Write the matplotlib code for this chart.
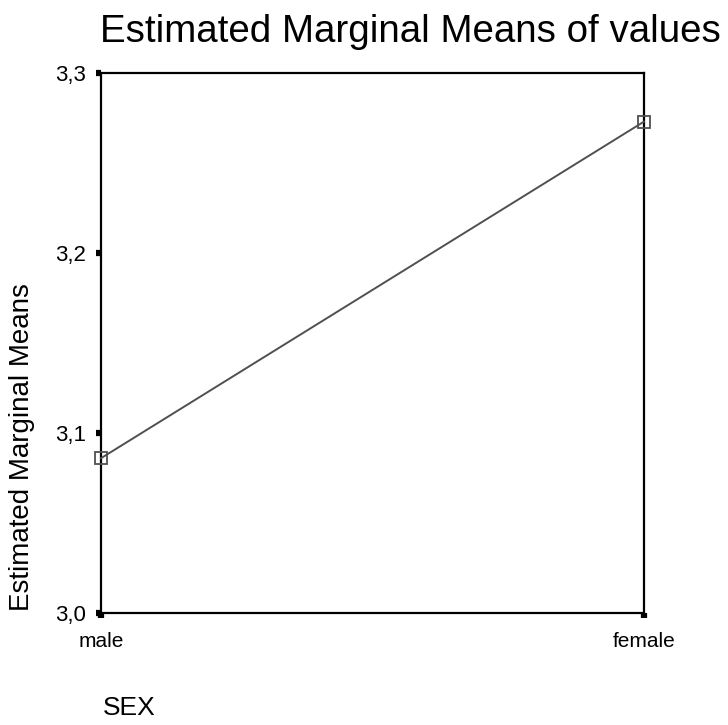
import matplotlib
matplotlib.use("Agg")
import matplotlib.pyplot as plt

# data
categories = ["male", "female"]
means = [3.086, 3.273]
y_ticks = [3.0, 3.1, 3.2, 3.3]
y_labels = ["3,0", "3,1", "3,2", "3,3"]

plt.rcParams['font.family'] = ['Liberation Sans', 'DejaVu Sans']

W, H = 728, 725
fig = plt.figure(figsize=(W / 100, H / 100), dpi=100)
ax = fig.add_axes([101 / W, 1 - 613 / H, (644 - 101) / W, (613 - 73) / H])

x = list(range(len(categories)))
ax.plot(x, means, color="#505050", lw=1.4, marker="s", markersize=9,
        markerfacecolor="none", markeredgecolor="#505050", markeredgewidth=1.3,
        clip_on=False, zorder=3)

ax.set_xlim(0, 1)
ax.set_ylim(3.0, 3.3)
ax.set_xticks(x)
ax.set_xticklabels(categories, fontsize=15)
ax.set_yticks(y_ticks)
ax.set_yticklabels(y_labels, fontsize=16)
ax.tick_params(direction="out", length=3.5, width=4.5, color="black")
ax.tick_params(axis="x", pad=10)
ax.tick_params(axis="y", pad=7)
for s in ax.spines.values():
    s.set_linewidth(1.6)

# the reference clips the last letter of the title; keep it just inside here
fig.text(100 / W, 1 - 42 / H, "Estimated Marginal Means of values", fontsize=27.7,
         ha="left", va="baseline")
fig.text(22 / W, 1 - 447 / H, "Estimated Marginal Means", fontsize=20,
         rotation=90, ha="center", va="center")
fig.text(103 / W, 1 - 715 / H, "SEX", fontsize=19, ha="left", va="baseline")

fig.savefig("out.png", dpi=100)
